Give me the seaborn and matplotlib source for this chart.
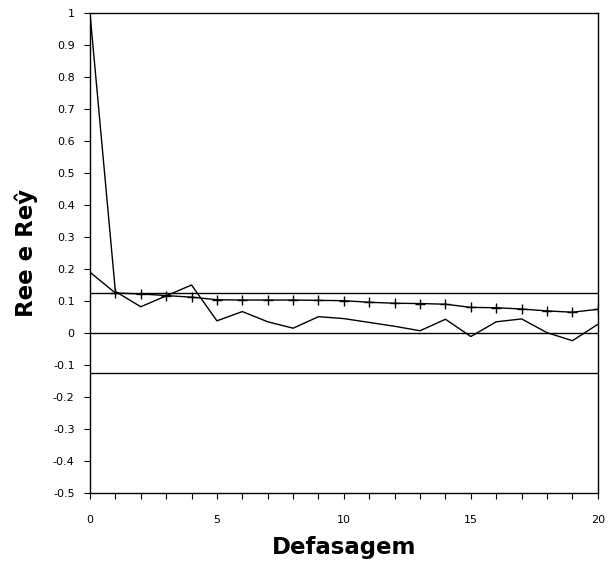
import numpy as np
import pandas as pd
import matplotlib
matplotlib.use("Agg")
import matplotlib.pyplot as plt
import seaborn as sns
from matplotlib.ticker import FuncFormatter, MultipleLocator

lags = list(range(21))
ree = [1.0, 0.13, 0.082, 0.116, 0.15, 0.038, 0.067, 0.035, 0.015, 0.051,
       0.045, 0.033, 0.021, 0.007, 0.043, -0.011, 0.035, 0.044, 0.001, -0.024, 0.027]
rey = [0.19, 0.125, 0.122, 0.117, 0.112, 0.104, 0.103, 0.103, 0.103, 0.102,
       0.101, 0.096, 0.093, 0.092, 0.09, 0.08, 0.079, 0.075, 0.069, 0.065, 0.074]
limits = [0.125, 0.0, -0.125]
yticks = [-0.5, -0.4, -0.3, -0.2, -0.1, 0, 0.1, 0.2, 0.3, 0.4, 0.5, 0.6, 0.7, 0.8, 0.9, 1]

sns.set_style("ticks")
plt.rcParams['font.family'] = ['DejaVu Sans']
plt.rcParams['text.color'] = 'black'
plt.rcParams['axes.labelcolor'] = 'black'
plt.rcParams['xtick.color'] = 'black'
plt.rcParams['ytick.color'] = 'black'

fig = plt.figure(figsize=(6.1, 5.69), dpi=100)
ax = fig.add_axes([0.1475, 0.1336, 0.8325, 0.8435])

df = pd.DataFrame({"lag": lags, "ree": ree, "rey": rey})
sns.lineplot(data=df, x="lag", y="ree", ax=ax, color="black", linewidth=1.0)
sns.lineplot(data=df, x="lag", y="rey", ax=ax, color="black", linewidth=1.0,
             marker="+", markersize=7, markeredgewidth=1.0, markeredgecolor="black",
             markevery=list(range(1, 21)))
for v in limits:
    ax.axhline(v, color="black", linewidth=1.0)

ax.set_xlim(0, 20)
ax.set_ylim(-0.5, 1.0)
ax.xaxis.set_major_locator(MultipleLocator(1))
ax.xaxis.set_major_formatter(FuncFormatter(lambda v, p: f"{int(round(v))}" if int(round(v)) % 5 == 0 else ""))
ax.set_yticks(yticks)
ax.yaxis.set_major_formatter(FuncFormatter(lambda v, p: "0" if abs(v) < 1e-9 else ("1" if abs(v - 1) < 1e-9 else f"{v:.1f}")))
ax.tick_params(axis="both", direction="out", length=4, width=0.8, labelsize=8, color="black")
ax.tick_params(axis="x", pad=12)
ax.tick_params(axis="y", pad=7)
for s in ax.spines.values():
    s.set_visible(True)
    s.set_color("black")
    s.set_linewidth(1.0)

ax.set_xlabel("Defasagem", fontsize=16.5, fontweight="bold", labelpad=8)
ax.set_ylabel("Ree e Reŷ", fontsize=16.5, fontweight="bold", labelpad=11)

fig.savefig("out.png", dpi=100)
